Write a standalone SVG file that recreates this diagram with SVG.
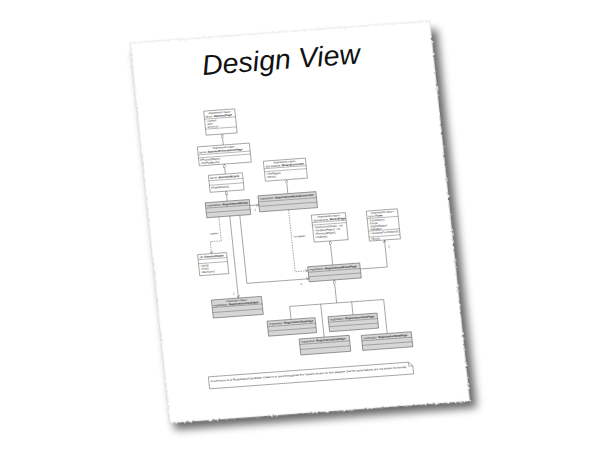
<svg xmlns="http://www.w3.org/2000/svg" width="600" height="450" viewBox="0 0 600 450">
<defs>
<style>
.box{fill:#fff;stroke:#555;stroke-width:0.5}
.gbox{fill:#d6d6d6;stroke:#444;stroke-width:0.5}
.sep{stroke:#555;stroke-width:0.4}
.t{font-family:"Liberation Sans",Arial,sans-serif;font-size:2.8px;fill:#222}
.st{font-style:italic;text-anchor:middle}
.b{font-weight:bold}
.edge{fill:none;stroke:#555;stroke-width:0.5}
.dash{stroke-dasharray:1.5 1}
.gen{marker-end:url(#tri)}
.nav{marker-end:url(#open)}
.title{font-family:"Liberation Sans",Arial,sans-serif;font-style:italic;font-size:28px;fill:#111}
</style>
<marker id="tri" viewBox="0 0 10 10" refX="10" refY="5" markerWidth="3.5" markerHeight="3.5" markerUnits="userSpaceOnUse" orient="auto"><path d="M0,0 L10,5 L0,10 Z" fill="#fff" stroke="#555" stroke-width="1.2"/></marker>
<marker id="open" viewBox="0 0 10 10" refX="10" refY="5" markerWidth="3" markerHeight="3" markerUnits="userSpaceOnUse" orient="auto"><path d="M0,0 L10,5 L0,10" fill="none" stroke="#555" stroke-width="1.3"/></marker>
<filter id="torn" x="-5%" y="-5%" width="110%" height="110%"><feTurbulence type="fractalNoise" baseFrequency="0.35" numOctaves="2" seed="4"/><feDisplacementMap in="SourceGraphic" scale="3" xChannelSelector="R" yChannelSelector="G"/></filter>
<filter id="blur" x="-10%" y="-10%" width="120%" height="120%"><feGaussianBlur stdDeviation="4"/></filter>
</defs>
<rect width="600" height="450" fill="#fff"/>
<g transform="matrix(1,-0.0733,0.105,1,130,43)">
<rect id="shadow" x="4" y="9" width="302" height="378" fill="#000" opacity="0.6" filter="url(#blur)"/>
<rect id="paper" x="0" y="0" width="300" height="380" fill="#fff" stroke="#c8c8c8" stroke-width="0.5" filter="url(#torn)"/>
<text class="title" x="69" y="37" textLength="158" lengthAdjust="spacingAndGlyphs">Design View</text>

<g id="connectors">
<path class="edge gen" d="M82,108 V97"/>
<path class="edge gen" d="M81,137 V127"/>
<path class="edge gen" d="M80,164 V154"/>
<path class="edge gen" d="M141,161 V147"/>
<path class="edge nav" d="M102,170 H111"/>
<text class="t" x="106" y="175.5">1</text>
<path class="edge dash nav" d="M70,179 V203 H59 V215"/>
<text class="t" x="68" y="196" text-anchor="end">«uses»</text>
<path class="edge nav" d="M81,179 V261"/>
<text class="t" x="76" y="257">1</text>
<path class="edge nav" d="M91,179 V247 H153"/>
<text class="t" x="144" y="252.5">1</text>
<path class="edge dash nav" d="M140,177 V239 H153"/>
<text class="t" x="142" y="205">«creates»</text>
<path class="edge gen" d="M178,235 V211"/>
<path class="edge nav" d="M205,241 H232 V214"/>
<text class="t" x="235" y="221.5">1</text>
<path class="edge gen" d="M178,273 V250"/>
<path class="edge" d="M131,273 H225"/>
<path class="edge" d="M131,273 V286 M162,273 V306 M193,273 V286 M225,273 V307"/>
</g>

<g id="AbstractPage">
<rect class="box" x="66" y="73" width="31" height="24"/>
<path class="sep" d="M66,81 H97 M66,91 H97"/>
<text class="t st" x="81.5" y="76.3">«framework class»</text>
<text class="t" x="67.5" y="79.6">faces::<tspan class="b">AbstractPage</tspan></text>
<text class="t" x="67.5" y="84">-context</text>
<text class="t" x="67.5" y="87">-user</text>
<text class="t" x="67.5" y="90">-services</text>
</g>

<g id="AbstractPresentationPage">
<rect class="box" x="56" y="108" width="52" height="19"/>
<path class="sep" d="M56,116 H108 M56,119 H108"/>
<text class="t st" x="82" y="111.2">«framework class»</text>
<text class="t" x="57.5" y="114.6">faces::<tspan class="b">AbstractPresentationPage</tspan></text>
<text class="t" x="57.5" y="122.2">#ProcessPage()</text>
<text class="t" x="57.5" y="125.4">+OnPostBack()</text>
</g>

<g id="AbstractWizard">
<rect class="box" x="64" y="137" width="34" height="17"/>
<path class="sep" d="M64,142.5 H98 M64,147 H98"/>
<text class="t" x="65.5" y="140.8">faces::<tspan class="b">AbstractWizard</tspan></text>
<text class="t" x="65.5" y="150.5">#StartWizard()</text>
</g>

<g id="RegistrationWizard">
<rect class="gbox" x="58" y="164" width="44" height="15"/>
<path class="sep" d="M58,169.5 H102 M58,174 H102"/>
<text class="t" x="59.5" y="167.9">registration::<tspan class="b">RegistrationWizard</tspan></text>
</g>

<g id="WizardController">
<rect class="box" x="120" y="127" width="42" height="20"/>
<path class="sep" d="M120,134.5 H162 M120,137.5 H162"/>
<text class="t st" x="141" y="130.1">«framework class»</text>
<text class="t" x="121.5" y="133.4">dsp.wizards::<tspan class="b">WizardController</tspan></text>
<text class="t" x="121.5" y="140.8">+GetPage()</text>
<text class="t" x="121.5" y="144">+Next()</text>
</g>

<g id="RegistrationWizardController">
<rect class="gbox" x="111" y="161" width="58" height="16"/>
<path class="sep" d="M111,167 H169 M111,171.5 H169"/>
<text class="t" x="112.5" y="165">registration::<tspan class="b">RegistrationWizardController</tspan></text>
</g>

<g id="SessionHelper">
<rect class="box" x="45" y="215" width="29" height="21"/>
<path class="sep" d="M45,220 H74 M45,224 H74"/>
<text class="t" x="46.5" y="218.6">util::<tspan class="b">SessionHelper</tspan></text>
<text class="t" x="46.5" y="227.2">+Add()</text>
<text class="t" x="46.5" y="230.4">+Get()</text>
<text class="t" x="46.5" y="233.6">+Remove()</text>
</g>

<g id="RegistrationCandidate">
<rect class="gbox" x="54" y="261" width="50" height="18"/>
<path class="sep" d="M54,268.5 H104 M54,273.5 H104"/>
<text class="t st" x="79" y="264.2">«business class»</text>
<text class="t" x="55.5" y="267.5">registration::<tspan class="b">RegistrationCandidate</tspan></text>
</g>

<g id="WizardPage">
<rect class="box" x="162" y="184" width="34" height="27"/>
<path class="sep" d="M162,191.5 H196 M162,194 H196"/>
<text class="t st" x="179" y="187.1">«framework class»</text>
<text class="t" x="163.5" y="190.4">dsp.wizards::<tspan class="b">WizardPage</tspan></text>
<text class="t" x="163.5" y="197.3">+GetCurrentStep() : int</text>
<text class="t" x="163.5" y="200.6">+GetNextPage() : int</text>
<text class="t" x="163.5" y="203.9">+PreviousPage()</text>
<text class="t" x="163.5" y="207.2">+Submit()</text>
</g>

<g id="Form">
<rect class="box" x="217" y="184" width="31" height="30"/>
<path class="sep" d="M217,191.5 H248 M217,204 H248 M217,210 H248"/>
<text class="t st" x="232.5" y="187.1">«framework class»</text>
<text class="t" x="218.5" y="190.4">form::<tspan class="b">Form</tspan></text>
<text class="t" x="218.5" y="194.7">-FormObject</text>
<text class="t" x="218.5" y="197.6">-Fields</text>
<text class="t" x="218.5" y="200.5">-SubmitButton</text>
<text class="t" x="218.5" y="203.4">-Validator</text>
<text class="t" x="218.5" y="207.3">+SerializeFormObject()</text>
<text class="t" x="218.5" y="213">+Bind()</text>
</g>

<g id="RegistrationWizardPage">
<rect class="gbox" x="153" y="235" width="52" height="15"/>
<path class="sep" d="M153,240.5 H205 M153,245 H205"/>
<text class="t" x="154.5" y="238.9">registration::<tspan class="b">RegistrationWizardPage</tspan></text>
</g>

<g id="RegistrationStepPage1">
<rect class="gbox" x="107" y="286" width="48" height="15"/>
<path class="sep" d="M107,291.5 H155 M107,296 H155"/>
<text class="t" x="108.5" y="289.9">registration::<tspan class="b">RegistrationStepPage</tspan></text>
</g>

<g id="RegistrationStepPage2">
<rect class="gbox" x="168" y="286" width="49" height="15"/>
<path class="sep" d="M168,291.5 H217 M168,296 H217"/>
<text class="t" x="169.5" y="289.9">registration::<tspan class="b">RegistrationStepPage</tspan></text>
</g>

<g id="RegistrationStepPage3">
<rect class="gbox" x="137" y="306" width="50" height="16"/>
<path class="sep" d="M137,311.5 H187 M137,316.5 H187"/>
<text class="t" x="138.5" y="309.9">registration::<tspan class="b">RegistrationStepPage</tspan></text>
</g>

<g id="RegistrationStepPage4">
<rect class="gbox" x="199" y="307" width="50" height="15"/>
<path class="sep" d="M199,312.5 H249 M199,317 H249"/>
<text class="t" x="200.5" y="310.9">registration::<tspan class="b">RegistrationStepPage</tspan></text>
</g>

<g id="note">
<path d="M43,337 H243 L247,341 V349 H43 Z" fill="#fff" stroke="#555" stroke-width="0.5"/>
<path d="M243,337 V341 H247" fill="none" stroke="#555" stroke-width="0.4"/>
<text class="t" x="45" y="342.5" textLength="196" lengthAdjust="spacingAndGlyphs">A reference to a RegistrationCandidate instance is used throughout the classes shown on this diagram, but the associations are not shown for brevity.</text>
</g>
</g>
</svg>
